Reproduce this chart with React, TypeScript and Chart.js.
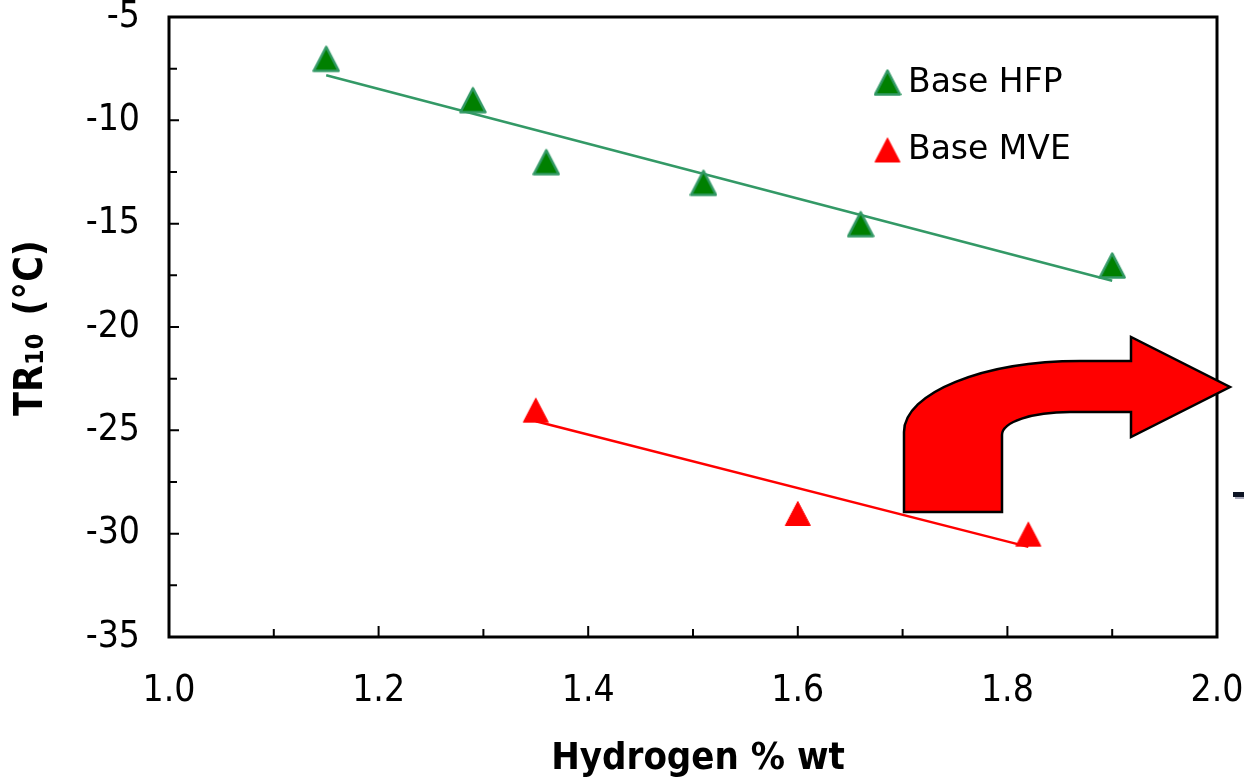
import React, { useEffect, useRef } from 'react';
import { Chart, registerables } from 'chart.js';

Chart.register(...registerables);

// ---- data ----
const hfpHydrogen = [1.15, 1.29, 1.36, 1.51, 1.66, 1.9];
const hfpTR10 = [-7, -9, -12, -13, -15, -17];
const mveHydrogen = [1.35, 1.6, 1.82];
const mveTR10 = [-24, -29, -30];
const hfpTrendX = [1.15, 1.9];
const hfpTrendY = [-7.82, -17.76];
const mveTrendX = [1.35, 1.82];
const mveTrendY = [-24.56, -30.64];
const seriesNames = ['Base HFP', 'Base MVE'];
const xTickValues = [1.0, 1.1, 1.2, 1.3, 1.4, 1.5, 1.6, 1.7, 1.8, 1.9, 2.0];
const xTickLabels = ['1.0', '', '1.2', '', '1.4', '', '1.6', '', '1.8', '', '2.0'];
const yTickValues = [-35, -32.5, -30, -27.5, -25, -22.5, -20, -17.5, -15, -12.5, -10, -7.5, -5];
const yTickLabels = ['-35', '', '-30', '', '-25', '', '-20', '', '-15', '', '-10', '', '-5'];
const xTitle = 'Hydrogen % wt';
const yTitleParts = ['TR', '10', ' (°C)'];

const GREEN_FILL = '#008000';
const GREEN_EDGE = '#339966';
const RED = '#FF0000';
const TICK_FONT = '"DejaVu Sans Condensed", "DejaVu Sans", sans-serif';

function makeTriangle(fill: string, stroke: string, lw: number): HTMLCanvasElement {
  const w = 28;
  const h = 30;
  const c = document.createElement('canvas');
  c.width = w;
  c.height = h;
  const ctx = c.getContext('2d')!;
  ctx.beginPath();
  ctx.moveTo(w / 2, 3.5);
  ctx.lineTo(w - 1.5, 27.5);
  ctx.lineTo(1.5, 27.5);
  ctx.closePath();
  ctx.fillStyle = fill;
  ctx.fill();
  ctx.lineWidth = lw;
  ctx.lineJoin = 'round';
  ctx.strokeStyle = stroke;
  ctx.stroke();
  return c;
}

export default function App() {
  const ref = useRef<HTMLCanvasElement>(null);

  useEffect(() => {
    if (!ref.current) return;
    const greenTri = makeTriangle(GREEN_FILL, GREEN_EDGE, 2.5);
    const redTri = makeTriangle(RED, RED, 1);

    const decor = {
      id: 'decor',
      beforeDatasetsDraw(chart: any) {
        const { ctx, chartArea: ca, scales } = chart;
        ctx.save();
        ctx.strokeStyle = '#000';
        // ticks (inward)
        ctx.lineWidth = 2;
        ctx.beginPath();
        xTickValues.forEach((v, i) => {
          const x = scales.x.getPixelForValue(v);
          const len = xTickLabels[i] ? 11 : 8;
          ctx.moveTo(x, ca.bottom);
          ctx.lineTo(x, ca.bottom - len);
        });
        yTickValues.forEach((v, i) => {
          const y = scales.y.getPixelForValue(v);
          const len = yTickLabels[i] ? 10 : 8;
          ctx.moveTo(ca.left, y);
          ctx.lineTo(ca.left + len, y);
        });
        ctx.stroke();
        // frame
        ctx.lineWidth = 3;
        ctx.strokeRect(ca.left, ca.top, ca.right - ca.left, ca.bottom - ca.top);
        ctx.restore();
      },
      afterDatasetsDraw(chart: any) {
        const { ctx, chartArea: ca } = chart;
        const P = (x: number, y: number): [number, number] => [ca.left + x - 169, ca.top + y - 17];
        ctx.save();
        ctx.beginPath();
        ctx.moveTo(...P(904, 512));
        ctx.lineTo(...P(904, 432));
        ctx.bezierCurveTo(...P(904, 393), ...P(983, 361), ...P(1080, 361));
        ctx.lineTo(...P(1131, 361));
        ctx.lineTo(...P(1131, 337));
        ctx.lineTo(...P(1230, 387));
        ctx.lineTo(...P(1131, 437));
        ctx.lineTo(...P(1131, 412));
        ctx.lineTo(...P(1070, 412));
        ctx.bezierCurveTo(...P(1032, 412), ...P(1002, 422), ...P(1002, 435));
        ctx.lineTo(...P(1002, 512));
        ctx.closePath();
        ctx.fillStyle = RED;
        ctx.fill();
        ctx.lineWidth = 2.5;
        ctx.lineJoin = 'miter';
        ctx.strokeStyle = '#000';
        ctx.stroke();
        // stray dash at right edge
        ctx.fillStyle = '#aab';
        ctx.fillRect(...P(1235, 494), 11, 5);
        ctx.fillStyle = '#0d1424';
        ctx.fillRect(...P(1233, 492), 11, 5);
        ctx.restore();
      },
      afterDraw(chart: any) {
        const { ctx, chartArea: ca } = chart;
        ctx.save();
        // legend
        const legendX = ca.left + (887.5 - 169);
        const rows = [
          { y: ca.top + (82 - 17), img: greenTri, label: seriesNames[0] },
          { y: ca.top + (149.5 - 17), img: redTri, label: seriesNames[1] },
        ];
        ctx.fillStyle = '#000';
        ctx.font = '33px "DejaVu Sans", sans-serif';
        ctx.textBaseline = 'middle';
        ctx.textAlign = 'left';
        rows.forEach((r) => {
          ctx.drawImage(r.img, legendX - r.img.width / 2, r.y - r.img.height / 2);
          ctx.fillText(r.label, legendX + 20.5, r.y + 1);
        });
        // x title
        ctx.font = 'bold 38px ' + TICK_FONT;
        ctx.textAlign = 'center';
        ctx.textBaseline = 'alphabetic';
        ctx.fillText(xTitle, ca.left + 529, ca.bottom + 132);
        // y title with subscript
        const fonts = ['bold 39px ' + TICK_FONT, 'bold 25px ' + TICK_FONT, 'bold 39px ' + TICK_FONT];
        const gaps = [0, 6, 0];
        const widths = yTitleParts.map((t, i) => {
          ctx.font = fonts[i];
          return ctx.measureText(t).width + gaps[i];
        });
        const total = widths.reduce((a, b) => a + b, 0);
        ctx.translate(ca.left - 127, (ca.top + ca.bottom) / 2 + 1);
        ctx.rotate(-Math.PI / 2);
        ctx.textAlign = 'left';
        let pos = -total / 2;
        yTitleParts.forEach((t, i) => {
          ctx.font = fonts[i];
          ctx.fillText(t, pos, i === 1 ? 1 : 0);
          pos += widths[i];
        });
        ctx.restore();
      },
    };

    const chart = new Chart(ref.current, {
      type: 'scatter',
      data: {
        datasets: [
          {
            label: seriesNames[0],
            data: hfpHydrogen.map((x, i) => ({ x, y: hfpTR10[i] })),
            pointStyle: greenTri as any,
            pointRadius: 12,
            showLine: false,
          },
          {
            label: seriesNames[1],
            data: mveHydrogen.map((x, i) => ({ x, y: mveTR10[i] })),
            pointStyle: redTri as any,
            pointRadius: 12,
            showLine: false,
          },
          {
            label: 'HFP trend',
            data: hfpTrendX.map((x, i) => ({ x, y: hfpTrendY[i] })),
            showLine: true,
            borderColor: GREEN_EDGE,
            borderWidth: 2.5,
            pointRadius: 0,
          },
          {
            label: 'MVE trend',
            data: mveTrendX.map((x, i) => ({ x, y: mveTrendY[i] })),
            showLine: true,
            borderColor: RED,
            borderWidth: 2.5,
            pointRadius: 0,
          },
        ],
      },
      options: {
        animation: false,
        responsive: true,
        maintainAspectRatio: false,
        events: [],
        layout: { padding: { left: 0, right: 27, top: 17, bottom: 0 } },
        plugins: { legend: { display: false }, tooltip: { enabled: false } },
        scales: {
          x: {
            type: 'linear',
            min: 1,
            max: 2,
            afterBuildTicks: (s: any) => {
              s.ticks = xTickValues.map((v) => ({ value: v }));
            },
            afterFit: (s: any) => {
              s.height = 140;
              s.paddingLeft = 0;
              s.paddingRight = 0;
            },
            grid: { display: false, drawTicks: false },
            border: { display: false },
            ticks: {
              autoSkip: false,
              maxRotation: 0,
              padding: 32,
              color: '#000',
              font: { family: TICK_FONT, size: 37 },
              callback: (_v: any, i: number) => xTickLabels[i],
            },
          },
          y: {
            type: 'linear',
            min: -35,
            max: -5,
            afterBuildTicks: (s: any) => {
              s.ticks = yTickValues.map((v) => ({ value: v }));
            },
            afterFit: (s: any) => {
              s.width = 169;
              s.paddingTop = 0;
              s.paddingBottom = 0;
            },
            grid: { display: false, drawTicks: false },
            border: { display: false },
            ticks: {
              autoSkip: false,
              padding: 29,
              color: '#000',
              font: { family: TICK_FONT, size: 37 },
              callback: (_v: any, i: number) => yTickLabels[i],
            },
          },
        },
      },
      plugins: [decor],
    } as any);

    return () => chart.destroy();
  }, []);

  return (
    <div style={{ position: 'fixed', left: 0, top: 0, width: 1244, height: 777, background: '#fff' }}>
      <canvas ref={ref} />
    </div>
  );
}
